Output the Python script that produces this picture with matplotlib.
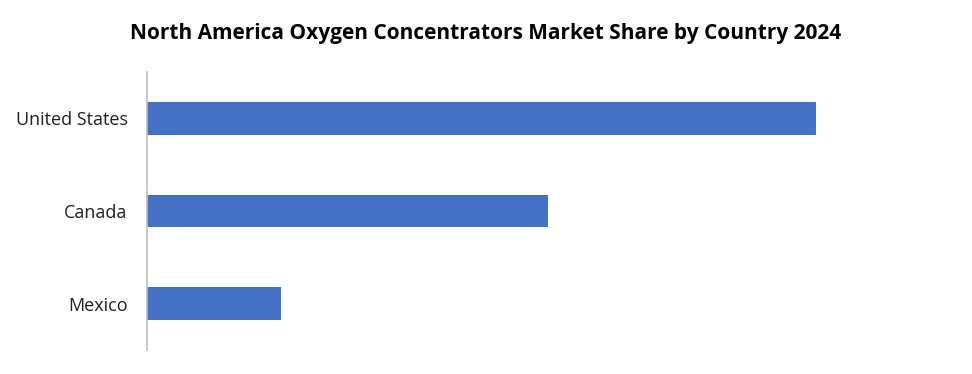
import matplotlib
matplotlib.use("Agg")
import matplotlib.pyplot as plt

countries = ["United States", "Canada", "Mexico"]
shares = [50, 30, 10]

plt.rcParams['font.family'] = ['Open Sans', 'DejaVu Sans']

fig = plt.figure(figsize=(9.72, 3.74), dpi=100)
ax = fig.add_axes([147 / 972, 24 / 374, 783 / 972, 278 / 374])

ypos = list(range(len(countries)))
ax.barh(ypos, shares, height=0.35, color='#4472C4')
ax.set_yticks(ypos)
ax.set_yticklabels(countries, fontsize=13, color='#202020')
ax.set_ylim(2.5, -0.5)
ax.set_xlim(0, 50 * 783 / 669)
ax.set_xticks([])
ax.tick_params(axis='y', length=0, pad=14)

for side in ['top', 'right', 'bottom']:
    ax.spines[side].set_visible(False)
ax.spines['left'].set_color('#BFBFBF')
ax.spines['left'].set_linewidth(1.2)

fig.text(486 / 972, 1 - 33 / 374, "North America Oxygen Concentrators Market Share by Country 2024",
         ha='center', va='center', fontsize=15, fontweight='bold', color='black')

fig.savefig("out.png", dpi=100)
